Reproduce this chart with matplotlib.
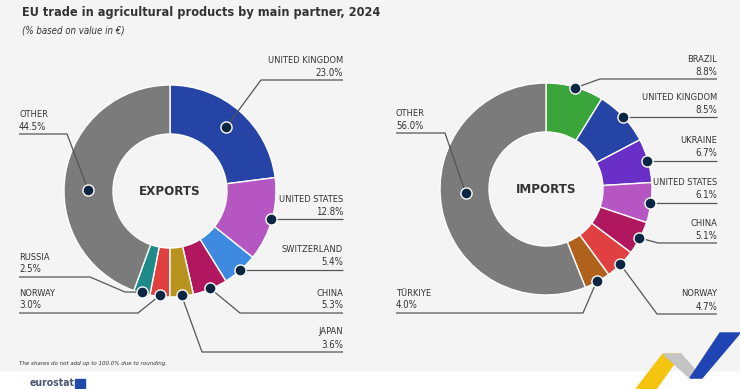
import numpy as np
import matplotlib
matplotlib.use("Agg")
import matplotlib.pyplot as plt
from matplotlib.patches import Rectangle, Polygon

plt.rcParams['font.family'] = ['DejaVu Sans']
plt.rcParams['font.stretch'] = 'condensed'

# data
exp_partners = ["UNITED KINGDOM", "UNITED STATES", "SWITZERLAND", "CHINA",
                "JAPAN", "NORWAY", "RUSSIA", "OTHER"]
exp_shares = [23.0, 12.8, 5.4, 5.3, 3.6, 3.0, 2.5, 44.5]
exp_colors = ["#2644a6", "#b656c2", "#3d8ae0", "#b0175e",
              "#b8941f", "#e0403f", "#1f8a8a", "#7b7b7b"]

imp_partners = ["BRAZIL", "UNITED KINGDOM", "UKRAINE", "UNITED STATES",
                "CHINA", "NORWAY", "TÜRKIYE", "OTHER"]
imp_shares = [8.8, 8.5, 6.7, 6.1, 5.1, 4.7, 4.0, 56.0]
imp_colors = ["#3aa53a", "#2644a6", "#6a2fc6", "#b656c2",
              "#b0175e", "#e0403f", "#b0621c", "#7b7b7b"]

BG = "#f4f4f4"
TXT = "#333333"
LINE = "#555555"
NAVY = "#0b2545"

fig = plt.figure(figsize=(7.4, 3.89), dpi=100, facecolor="white")
ax = fig.add_axes([0, 0, 1, 1])


def donut(center, values, colors, title):
    ax.pie(values, colors=colors, startangle=-90, counterclock=True,
           radius=106, center=center, frame=True,
           wedgeprops=dict(width=49, edgecolor="white", linewidth=1.0))
    ax.text(center[0], center[1], title, ha="center", va="center",
            fontsize=9.5, fontweight="bold", color=TXT)


def marker_xy(center, values, i, frac=0.5, rfrac=0.99):
    tot = sum(values)
    start = sum(values[:i])
    phi = np.deg2rad(360 * (start + frac * values[i]) / tot)
    r = 106 * rfrac
    return center[0] + r * np.sin(phi), center[1] - r * np.cos(phi)


def label(center, values, names, i, side, text_x, uy=None, path=(),
          frac=0.5, rfrac=0.99):
    mx, my = marker_xy(center, values, i, frac, rfrac)
    if uy is None:
        uy = my
        pts = [(mx, my)]
    else:
        pts = [(mx, my)] + list(path)
        pts.append((pts[-1][0], uy))
    pts.append((text_x, uy))
    xs, ys = zip(*pts)
    ax.plot(xs, ys, color=LINE, lw=0.9, solid_capstyle="butt", zorder=4)
    ax.plot(mx, my, "o", ms=8, mfc=NAVY, mec="white", mew=1.0, zorder=5)
    ha = "right" if side == "r" else "left"
    ax.text(text_x, uy - 20, names[i], ha=ha, va="center", fontsize=6.7,
            color=TXT)
    ax.text(text_x, uy - 7.5, f"{values[i]:.1f}%", ha=ha, va="center",
            fontsize=6.9, color=TXT)


# background
ax.add_patch(Rectangle((0, 0), 740, 370, color=BG, zorder=0))

ec = (170, 191)
ic = (546, 189)
donut(ec, exp_shares, exp_colors, "EXPORTS")
donut(ic, imp_shares, imp_colors, "IMPORTS")

# export labels
label(ec, exp_shares, exp_partners, 0, "r", 343, 80, [(261, 80)], rfrac=0.8)
label(ec, exp_shares, exp_partners, 1, "r", 343)
label(ec, exp_shares, exp_partners, 2, "r", 343)
label(ec, exp_shares, exp_partners, 3, "r", 343, 313, [(240, 313)])
label(ec, exp_shares, exp_partners, 4, "r", 343, 352, [(202, 352)])
label(ec, exp_shares, exp_partners, 5, "l", 19, 313, [(138, 313)])
label(ec, exp_shares, exp_partners, 6, "l", 19, 277,
      [(125, 292), (90, 277)])
label(ec, exp_shares, exp_partners, 7, "l", 19, 134, [(67, 134)],
      frac=0.44, rfrac=0.77)

# import labels
label(ic, imp_shares, imp_partners, 0, "r", 717, 79, [(600, 79)])
label(ic, imp_shares, imp_partners, 1, "r", 717)
label(ic, imp_shares, imp_partners, 2, "r", 717)
label(ic, imp_shares, imp_partners, 3, "r", 717)
label(ic, imp_shares, imp_partners, 4, "r", 717, 243, [(658, 243)])
label(ic, imp_shares, imp_partners, 5, "r", 717, 314, [(657, 314)])
label(ic, imp_shares, imp_partners, 6, "l", 396, 313, [(583, 313)])
label(ic, imp_shares, imp_partners, 7, "l", 396, 133, [(445, 133)],
      frac=0.54, rfrac=0.76)

# titles and notes
ax.text(22, 12, "EU trade in agricultural products by main partner, 2024",
        ha="left", va="center", fontsize=9.1, fontweight="bold", color=TXT)
ax.text(22, 30, "(% based on value in €)", ha="left", va="center",
        fontsize=6.9, style="italic", color=TXT)
ax.text(19, 364, "The shares do not add up to 100.0% due to rounding.",
        ha="left", va="center", fontsize=4.4, style="italic", color=TXT)

# eurostat logo and corner decoration
ax.text(30, 388, "eurostat", ha="left", va="bottom", fontsize=7.5,
        fontweight="bold", color="#4a5670")
ax.add_patch(Rectangle((75, 379), 10, 10, color="#1f4aa8", zorder=3))
ax.add_patch(Polygon([(636, 389), (656, 389), (681, 354), (663, 354)],
                     color="#f5c40f", zorder=2))
ax.add_patch(Polygon([(663, 354), (681, 354), (702, 378), (690, 378)],
                     color="#c4c4c4", zorder=2))
ax.add_patch(Polygon([(690, 378), (702, 378), (740, 333), (720, 333)],
                     color="#1f45b5", zorder=2))

ax.set_xlim(0, 740)
ax.set_ylim(389, 0)
ax.set_aspect("equal")
ax.axis("off")

fig.savefig("out.png", dpi=100, facecolor=fig.get_facecolor())
